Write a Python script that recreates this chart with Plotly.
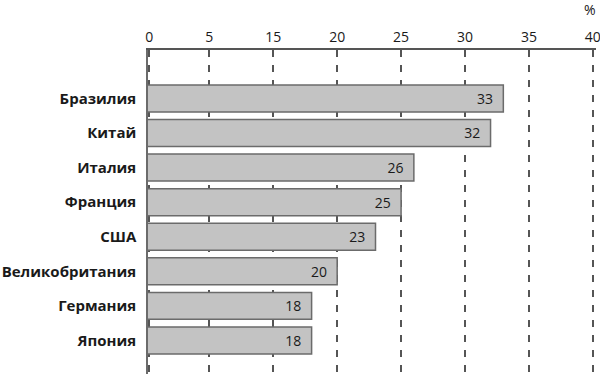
import plotly.graph_objects as go

countries = ["Бразилия", "Китай", "Италия", "Франция", "США",
             "Великобритания", "Германия", "Япония"]
values = [33, 32, 26, 25, 23, 20, 18, 18]

# axis as printed in the reference (broken scale: left edge labelled "0")
tick_values = [5.3, 10, 15, 20, 25, 30, 35, 40]
tick_labels = ["0", "5", "15", "20", "25", "30", "35", "40"]
x_range = [5.2, 40.25]
unit_label = "%"

FONT = "Open Sans"
TXT = "#1a1a1a"
GRID = "#555555"

fig = go.Figure()
fig.add_trace(go.Bar(
    y=countries,
    x=values,
    orientation="h",
    width=0.78,
    marker=dict(color="#c3c3c3", line=dict(color="#6b6b6b", width=1.5)),
    texttemplate="%{x}\u00a0\u00a0",
    textposition="inside",
    insidetextanchor="end",
    textangle=0,
    textfont=dict(family=FONT, size=14, color=TXT),
    hoverinfo="skip",
))

fig.update_layout(
    width=600, height=374,
    margin=dict(l=148, r=4, t=50, b=0),
    paper_bgcolor="white",
    plot_bgcolor="white",
    showlegend=False,
    bargap=0.2,
    xaxis=dict(
        side="top",
        range=x_range,
        tickmode="array",
        tickvals=tick_values,
        ticktext=tick_labels,
        tickfont=dict(family=FONT, size=14, color=TXT),
        ticklabeloverflow="allow",
        automargin=False,
        showgrid=True,
        gridcolor=GRID,
        gridwidth=1.5,
        griddash="7px,8px",
        showline=True,
        linecolor=GRID,
        linewidth=2,
        ticks="",
        zeroline=False,
        fixedrange=True,
    ),
    yaxis=dict(
        type="category",
        categoryorder="array",
        categoryarray=countries,
        range=[7.97, -1.4],
        tickfont=dict(family=FONT, size=15, color=TXT, weight="bold"),
        automargin=False,
        showline=True,
        linecolor="#6b6b6b",
        linewidth=1.5,
        showgrid=False,
        ticks="",
        ticklabelstandoff=7,
        fixedrange=True,
    ),
    annotations=[dict(
        text=unit_label, xref="paper", yref="paper",
        x=0.987, y=1.124, xanchor="center", yanchor="middle",
        showarrow=False, font=dict(family=FONT, size=14, color=TXT),
    )],
)

fig.write_html(
    "out.html",
    config={"displayModeBar": False},
    post_script="document.body.style.margin='0';document.body.style.overflow='hidden';",
)
